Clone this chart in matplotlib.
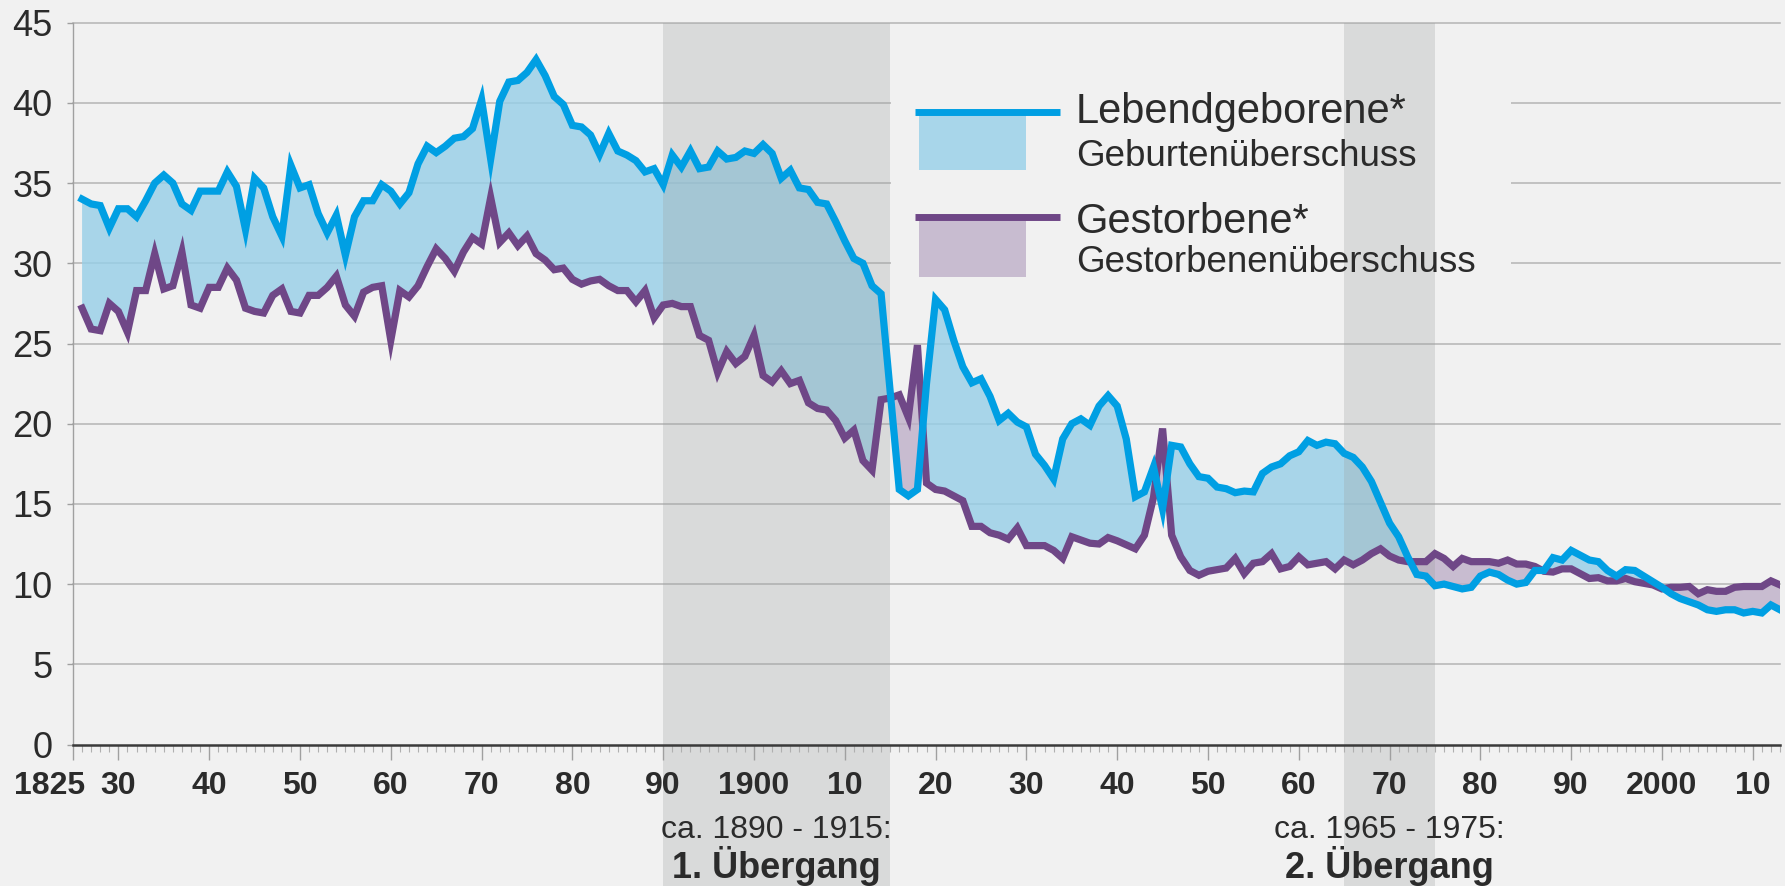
import numpy as np
import matplotlib
matplotlib.use("Agg")
import matplotlib.pyplot as plt
from matplotlib.patches import Rectangle
from matplotlib.lines import Line2D
from matplotlib.ticker import FixedLocator, MultipleLocator
from matplotlib.transforms import ScaledTranslation

plt.rcParams['font.family'] = ['Liberation Sans', 'DejaVu Sans']

# Lebendgeborene / Gestorbene je 1000 Einwohner, 1826 - 2013
years = np.arange(1826, 2014)

births = [
    34.0, 33.7, 33.6, 32.2, 33.4, 33.4, 32.9, 33.9, 35.0, 35.5,   # 1826-1835
    35.0, 33.7, 33.3, 34.5, 34.5, 34.5, 35.7, 34.8, 32.1, 35.3,   # 1836-1845
    34.7, 32.9, 31.7, 36.1, 34.7, 34.9, 33.1, 31.9, 33.0, 30.5,   # 1846-1855
    32.9, 33.9, 33.9, 34.9, 34.5, 33.7, 34.4, 36.2, 37.3, 36.9,   # 1856-1865
    37.3, 37.8, 37.9, 38.4, 40.2, 36.5, 40.1, 41.3, 41.4, 41.9,   # 1866-1875
    42.7, 41.7, 40.4, 39.9, 38.6, 38.5, 38.0, 36.8, 38.1, 37.0,   # 1876-1885
    36.75, 36.4, 35.7, 35.9, 34.9, 36.75, 36.0, 37.0, 35.9, 36.0, # 1886-1895
    37.0, 36.5, 36.6, 37.0, 36.85, 37.4, 36.85, 35.3, 35.8, 34.7, # 1896-1905
    34.6, 33.8, 33.7, 32.6, 31.4, 30.3, 30.0, 28.6, 28.1, 22.0,   # 1906-1915
    15.9, 15.5, 15.9, 22.5, 27.75, 27.1, 25.2, 23.55, 22.55, 22.8, # 1916-1925
    21.7, 20.2, 20.65, 20.1, 19.8, 18.1, 17.4, 16.55, 19.05, 20.0, # 1926-1935
    20.3, 19.9, 21.1, 21.75, 21.1, 19.05, 15.45, 15.75, 17.3, 14.7, # 1936-1945
    18.65, 18.55, 17.5, 16.7, 16.6, 16.05, 15.95, 15.7, 15.8, 15.75, # 1946-1955
    16.9, 17.3, 17.5, 18.0, 18.25, 18.95, 18.65, 18.85, 18.75, 18.15, # 1956-1965
    17.9, 17.3, 16.4, 15.1, 13.8, 12.95, 11.7, 10.6, 10.5, 9.9,   # 1966-1975
    10.0, 9.85, 9.7, 9.8, 10.5, 10.75, 10.6, 10.25, 10.0, 10.1,   # 1976-1985
    10.85, 10.85, 11.65, 11.5, 12.1, 11.8, 11.5, 11.4, 10.85, 10.5, # 1986-1995
    10.9, 10.85, 10.5, 10.15, 9.8, 9.4, 9.1, 8.9, 8.7, 8.4,       # 1996-2005
    8.3, 8.4, 8.4, 8.2, 8.3, 8.2, 8.7, 8.4,                       # 2006-2013
]

deaths = [
    27.2, 25.9, 25.8, 27.5, 27.0, 25.7, 28.3, 28.3, 30.6, 28.4,   # 1826-1835
    28.6, 30.7, 27.4, 27.2, 28.5, 28.5, 29.7, 28.95, 27.2, 27.0,  # 1836-1845
    26.9, 28.0, 28.4, 27.0, 26.9, 28.0, 28.0, 28.5, 29.2, 27.4,   # 1846-1855
    26.7, 28.2, 28.5, 28.6, 25.2, 28.3, 27.9, 28.6, 29.8, 30.9,   # 1856-1865
    30.3, 29.5, 30.7, 31.6, 31.2, 34.1, 31.3, 31.9, 31.1, 31.7,   # 1866-1875
    30.6, 30.2, 29.6, 29.7, 29.0, 28.7, 28.9, 29.0, 28.6, 28.3,   # 1876-1885
    28.3, 27.6, 28.3, 26.6, 27.4, 27.5, 27.3, 27.3, 25.5, 25.2,   # 1886-1895
    23.2, 24.5, 23.75, 24.2, 25.5, 23.0, 22.6, 23.3, 22.5, 22.7,  # 1896-1905
    21.3, 20.95, 20.85, 20.2, 19.1, 19.6, 17.7, 17.1, 21.5, 21.6, # 1906-1915
    21.8, 20.4, 24.9, 16.3, 15.9, 15.8, 15.5, 15.2, 13.6, 13.6,   # 1916-1925
    13.2, 13.05, 12.8, 13.5, 12.4, 12.4, 12.4, 12.1, 11.6, 12.95, # 1926-1935
    12.75, 12.55, 12.5, 12.9, 12.7, 12.45, 12.2, 13.05, 15.4, 19.7, # 1936-1945
    13.05, 11.7, 10.85, 10.55, 10.8, 10.9, 11.0, 11.6, 10.65, 11.3, # 1946-1955
    11.4, 11.9, 10.95, 11.1, 11.7, 11.2, 11.3, 11.4, 10.95, 11.5, # 1956-1965
    11.2, 11.5, 11.9, 12.2, 11.75, 11.5, 11.4, 11.4, 11.4, 11.9,  # 1966-1975
    11.6, 11.1, 11.6, 11.4, 11.4, 11.4, 11.3, 11.5, 11.25, 11.25, # 1976-1985
    11.1, 10.8, 10.75, 10.95, 10.95, 10.65, 10.35, 10.4, 10.2, 10.2, # 1986-1995
    10.35, 10.15, 10.05, 9.95, 9.7, 9.8, 9.8, 9.85, 9.4, 9.65,    # 1996-2005
    9.55, 9.55, 9.8, 9.85, 9.85, 9.85, 10.2, 9.95,                # 2006-2013
]

tick_years = [1825] + list(range(1830, 2011, 10))
tick_labels = ["1825", "30", "40", "50", "60", "70", "80", "90", "1900", "10",
               "20", "30", "40", "50", "60", "70", "80", "90", "2000", "10"]

transitions = [(1890, 1915, "ca. 1890 - 1915:", "1. Übergang"),
               (1965, 1975, "ca. 1965 - 1975:", "2. Übergang")]

legend_items = [("Lebendgeborene*", "Geburtenüberschuss"),
                ("Gestorbene*", "Gestorbenenüberschuss")]

BG = '#f1f1f1'
BLUE = '#009fe3'
PURPLE = '#6f4787'
TXT = '#2b2b2b'

births = np.array(births)
deaths = np.array(deaths)

W, H = 1785, 886
fig = plt.figure(figsize=(W / 100, H / 100), dpi=100, facecolor=BG)
# plot area in pixels: x 73..1780, y 22.7..744.5
ax = fig.add_axes([73 / W, (H - 744.5) / H, 1707 / W, 721.8 / H])
ax.set_facecolor(BG)
ax.set_axisbelow(False)

ax.set_xlim(1825, 2013)
ax.set_ylim(0, 45)

# grid
for v in range(5, 50, 5):
    ax.axhline(v, color='#b4b4b4', lw=1.1, zorder=1, clip_on=False)

# box behind legend hides the grid lines
ax.add_patch(Rectangle((0.4792, 0.616), 0.3632, 0.353, transform=ax.transAxes,
                       facecolor=BG, edgecolor='none', zorder=1.5))

# fills between the two series
ax.fill_between(years, births, deaths, where=births >= deaths, interpolate=True,
                facecolor='#96cfe8', alpha=0.8, lw=0, zorder=1.8)
ax.fill_between(years, births, deaths, where=births < deaths, interpolate=True,
                facecolor='#beafc8', alpha=0.8, lw=0, zorder=1.8)

# transition bands (reach below the axis down to figure bottom)
for a, b, t1, t2 in transitions:
    ax.add_patch(Rectangle((a, -0.2), b - a, 1.2, transform=ax.get_xaxis_transform(),
                           facecolor='#9a9e9e', alpha=0.27, lw=0, zorder=2, clip_on=False))
    mid = (a + b) / 2
    ax.text(mid, -0.1295, t1, transform=ax.get_xaxis_transform(), ha='center',
            va='baseline', fontsize=23, color=TXT, zorder=4)
    ax.text(mid, -0.185, t2, transform=ax.get_xaxis_transform(), ha='center',
            va='baseline', fontsize=26, fontweight='bold', color=TXT, zorder=4)

ax.plot(years, deaths, color=PURPLE, lw=5.2, zorder=3, solid_joinstyle='miter')
ax.plot(years, births, color=BLUE, lw=5.2, zorder=3.1, solid_joinstyle='miter')

# legend drawn by hand
leg_y = [(0.8765, 0.796), (0.7308, 0.6477)]
leg_cols = [(BLUE, '#a8d6ea'), (PURPLE, '#c8bcd0')]
leg_txt_y = [(0.8615, 0.8015), (0.709, 0.655)]
for (lt, lb), (y0, y1), (lc, pc), (ty0, ty1) in zip(legend_items, leg_y, leg_cols, leg_txt_y):
    ax.add_patch(Rectangle((0.4956, y1), 0.0627, y0 - y1, transform=ax.transAxes,
                           facecolor=pc, edgecolor='none', zorder=4))
    ax.add_line(Line2D([0.4933, 0.5782], [y0, y0], transform=ax.transAxes,
                       color=lc, lw=5, solid_capstyle='butt', zorder=4.1))
    ax.text(0.5876, ty0, lt, transform=ax.transAxes, fontsize=30, color=TXT,
            va='baseline', ha='left', zorder=4)
    ax.text(0.5876, ty1, lb, transform=ax.transAxes, fontsize=26.5, color=TXT,
            va='baseline', ha='left', zorder=4)

# axes styling
for s in ['top', 'right']:
    ax.spines[s].set_visible(False)
ax.spines['left'].set_color('#a0a0a0')
ax.spines['left'].set_linewidth(1)
ax.spines['bottom'].set_color('#3a3a3a')
ax.spines['bottom'].set_linewidth(1.8)
ax.spines['bottom'].set_zorder(3.5)

ax.set_yticks(range(0, 50, 5))
ax.tick_params(axis='y', length=4.3, width=1, color='#a0a0a0', pad=10.5,
               labelsize=26, labelcolor=TXT)

ax.xaxis.set_major_locator(FixedLocator(tick_years))
ax.xaxis.set_minor_locator(MultipleLocator(1))
ax.set_xticklabels(tick_labels)
ax.tick_params(axis='x', which='major', length=10.8, width=1, color='#a0a0a0',
               pad=8, labelsize=23, labelcolor=TXT)
ax.tick_params(axis='x', which='minor', length=5, width=0.8, color='#b0b0b0')
for lab in ax.get_xticklabels():
    lab.set_fontweight('bold')
first = ax.get_xticklabels()[0]
first.set_transform(first.get_transform() + ScaledTranslation(-0.23, 0, fig.dpi_scale_trans))

fig.savefig('out.png', dpi=100, facecolor=BG)
